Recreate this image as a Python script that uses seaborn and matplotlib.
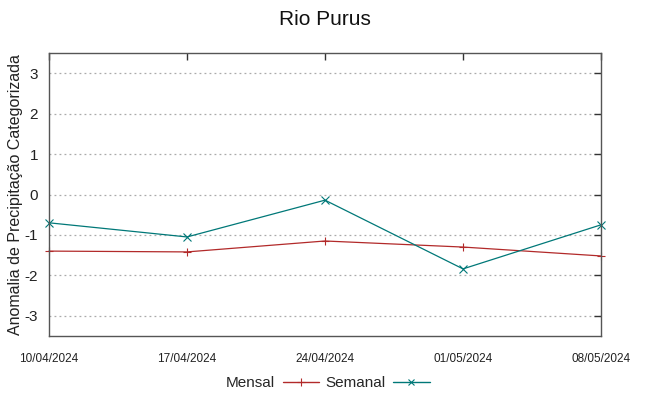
import matplotlib
matplotlib.use("Agg")
import matplotlib.pyplot as plt
import seaborn as sns
import pandas as pd
from matplotlib.lines import Line2D

dates = ["2024-04-10", "2024-04-17", "2024-04-24", "2024-05-01", "2024-05-08"]
tick_labels = ["10/04/2024", "17/04/2024", "24/04/2024", "01/05/2024", "08/05/2024"]
mensal = [-1.40, -1.42, -1.15, -1.30, -1.52]
semanal = [-0.70, -1.05, -0.14, -1.84, -0.75]

sns.set_theme(style="white")
plt.rcParams['font.family'] = ['Liberation Sans', 'DejaVu Sans']

df = pd.DataFrame({
    "data": pd.to_datetime(dates * 2),
    "valor": mensal + semanal,
    "serie": ["Mensal"] * len(dates) + ["Semanal"] * len(dates),
})

fig = plt.figure(figsize=(6.49, 3.96), dpi=100)
ax = fig.add_axes([49/649, (396-336)/396, (601-49)/649, (336-53)/396])

palette = {"Mensal": "#b22a2a", "Semanal": "#007878"}
markers = {"Mensal": "+", "Semanal": "x"}
sns.lineplot(data=df, x="data", y="valor", hue="serie", style="serie",
             palette=palette, markers=markers, dashes=False, linewidth=0.9,
             markersize=5.5, markeredgewidth=0.8, ax=ax, legend=False)
for ln in ax.lines:
    ln.set_markeredgecolor(ln.get_color())
    ln.set_clip_on(False)

ax.set_xlim(pd.Timestamp(dates[0]), pd.Timestamp(dates[-1]))
ax.set_ylim(-3.5, 3.5)
ax.set_xticks(pd.to_datetime(dates))
ax.set_xticklabels(tick_labels, fontsize=8.5)
ax.set_yticks([-3, -2, -1, 0, 1, 2, 3])
ax.set_yticklabels(["-3", "-2", "-1", "0", "1", "2", "3"], fontsize=11)
ax.tick_params(direction="in", top=True, right=True, length=5, width=1,
               color="#333333", labelcolor="#222222")
ax.tick_params(axis="x", pad=12)
ax.tick_params(axis="y", pad=8)
ax.yaxis.grid(True, linestyle=(0, (1.5, 2.5)), color="#aaaaaa", linewidth=0.9)
ax.xaxis.grid(False)
for s in ax.spines.values():
    s.set_color("#555555")
    s.set_linewidth(1)
ax.set_xlabel("")
ax.set_ylabel("Anomalia de Precipitação Categorizada", fontsize=11.5, color="#222222", labelpad=1)
fig.suptitle("Rio Purus", fontsize=15, y=0.975, color="#111111")

handles = [Line2D([], [], color=palette["Mensal"], marker="+", lw=1, markersize=6, markeredgewidth=0.8),
           Line2D([], [], color=palette["Semanal"], marker="x", lw=1, markersize=4.5, markeredgewidth=0.8)]
fig.legend(handles, ["Mensal", "Semanal"], loc="lower center", bbox_to_anchor=(0.505, -0.02),
           ncol=2, frameon=False, markerfirst=False, fontsize=11, handlelength=2.4,
           columnspacing=0.4, handletextpad=0.5)

fig.savefig("out.png", dpi=100)
